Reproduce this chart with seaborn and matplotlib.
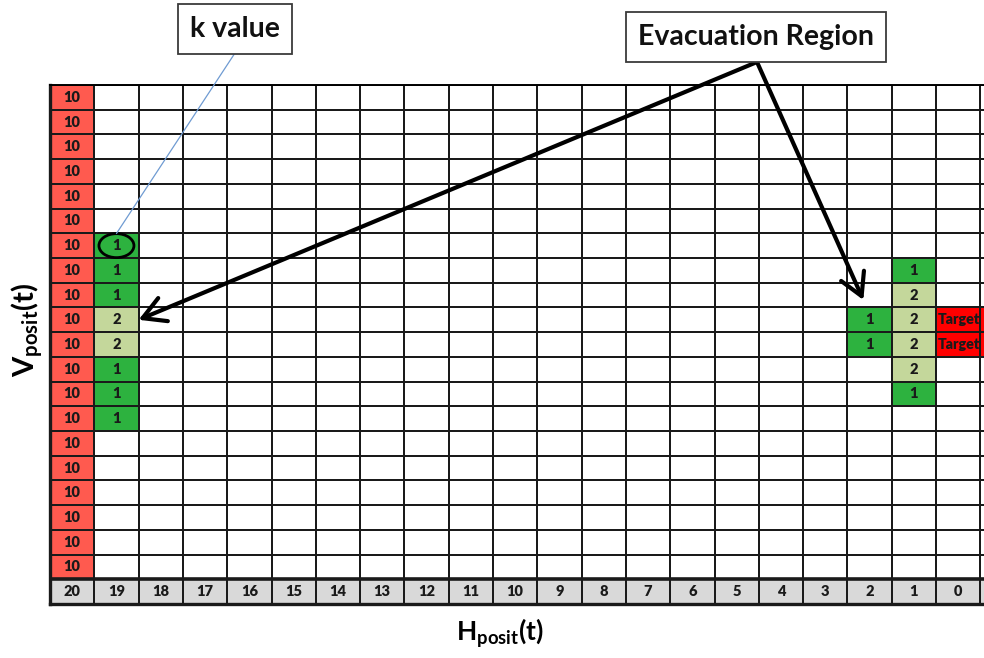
import matplotlib
matplotlib.use("Agg")
import matplotlib.pyplot as plt
from matplotlib.colors import ListedColormap
from matplotlib.patches import Ellipse
import numpy as np
import seaborn as sns

# grid size and the values shown in it
n_rows = 20
h_labels = list(range(20, -1, -1))          # bottom row: 20 ... 0
boundary_k = [10] * n_rows                  # red column at H=20

# evacuation cells: (column label, first row (1 = top), k values downwards)
col19_start, col19_k = 7, [1, 1, 1, 2, 2, 1, 1, 1]
col2_start, col2_k = 10, [1, 1]
col1_start, col1_k = 8, [1, 2, 2, 2, 2, 1]
target_col, target_rows = 0, [10, 11]

# codes: 0 empty, 1 k=1, 2 k=2, 3 boundary, 4 target, 5 label row
palette = ["#ffffff", "#2db23f", "#c4d79b", "#ff5a4f", "#ff0000", "#d9d9d9"]

n_cols = len(h_labels) + 1                  # one spare column cut by the edge
codes = np.zeros((n_rows + 1, n_cols), dtype=int)
texts = np.full((n_rows + 1, n_cols), "", dtype=object)


def col_idx(h):
    return h_labels.index(h)


for r, k in enumerate(boundary_k):
    codes[r, 0] = 3
    texts[r, 0] = str(k)

for h, start, ks in [(19, col19_start, col19_k), (2, col2_start, col2_k), (1, col1_start, col1_k)]:
    for i, k in enumerate(ks):
        codes[start - 1 + i, col_idx(h)] = k
        texts[start - 1 + i, col_idx(h)] = str(k)

for r in target_rows:
    codes[r - 1, col_idx(target_col)] = 4
    codes[r - 1, -1] = 4
    texts[r - 1, col_idx(target_col)] = "Target"

codes[n_rows, :] = 5
for j, h in enumerate(h_labels):
    texts[n_rows, j] = str(h)

plt.rcParams["font.family"] = ["Lato", "DejaVu Sans"]
plt.rcParams["mathtext.fontset"] = "custom"
plt.rcParams["mathtext.rm"] = "Lato"
plt.rcParams["mathtext.bf"] = "Lato:bold"

W, H = 984, 658
fig = plt.figure(figsize=(W / 100, H / 100), dpi=100, facecolor="white")
ax = fig.add_axes([50 / W, (H - 604) / H, 934 / W, (604 - 85) / H])

sns.heatmap(codes, cmap=ListedColormap(palette), vmin=-0.5, vmax=5.5, cbar=False,
            annot=texts, fmt="", linewidths=1.4, linecolor="#1a1a1a", ax=ax,
            annot_kws={"color": "#1a1a1a", "fontsize": 10.5, "fontweight": "heavy"})

col_w = 44.3
ax.set_xlim(0, 934 / col_w)
ax.set_ylim(n_rows + 1, 0)
ax.set_xticks([])
ax.set_yticks([])

for t in ax.texts:
    t.set_clip_on(True)
    if t.get_text() == "Target":
        x, y = t.get_position()
        t.set_position((x - 0.46, y))
        t.set_ha("left")
        t.set_fontsize(10.3)

# thicker outline like the spreadsheet border
ax.axhline(n_rows, color="#1a1a1a", lw=2.6)
for side in ["left", "bottom"]:
    ax.spines[side].set_visible(True)
    ax.spines[side].set_linewidth(2.4)
    ax.spines[side].set_color("#1a1a1a")
ax.spines["top"].set_visible(True)
ax.spines["top"].set_linewidth(1.4)

# axis titles
fig.text(27 / W, 1 - 330 / H, r"$\mathbf{V_{posit}(t)}$", rotation=90,
         ha="center", va="center", fontsize=21)
fig.text(500 / W, 1 - 633 / H, r"$\mathbf{H_{posit}(t)}$",
         ha="center", va="center", fontsize=19)

# k value callout
kx, ky = col_idx(19) + 0.5, col19_start - 0.5
ax.add_patch(Ellipse((kx, ky), 0.79, 0.97, fill=False, lw=2, ec="black", clip_on=False))
fig.text(235 / W, 1 - 29 / H, "k value", ha="center", va="center", fontsize=20.5,
         fontweight="bold", color="#111111",
         bbox=dict(boxstyle="square,pad=0.42", fc="white", ec="#3a3a3a", lw=1.3))
ax.annotate("", xy=(kx, ky - 0.49), xycoords="data",
            xytext=(235 / W, 1 - 53 / H), textcoords="figure fraction",
            arrowprops=dict(arrowstyle="-", color="#6f9bd2", lw=0.9, shrinkA=0, shrinkB=0))

# evacuation region callout
fig.text(756 / W, 1 - 37 / H, "Evacuation Region", ha="center", va="center", fontsize=20.5,
         fontweight="bold", color="#111111",
         bbox=dict(boxstyle="square,pad=0.42", fc="white", ec="#3a3a3a", lw=1.3))
start = (757 / W, 1 - 62 / H)
tips = [(col_idx(19) + 1, col19_start + 2.5), (col_idx(2) + 0.36, col2_start - 1.3)]
for tip in tips:
    ax.annotate("", xy=tip, xycoords="data", xytext=start, textcoords="figure fraction",
                arrowprops=dict(arrowstyle="->,head_length=0.8,head_width=0.45", color="black",
                                lw=3, shrinkA=0, shrinkB=0, mutation_scale=20))

plt.savefig("out.png", dpi=100, facecolor="white")
plt.close()
